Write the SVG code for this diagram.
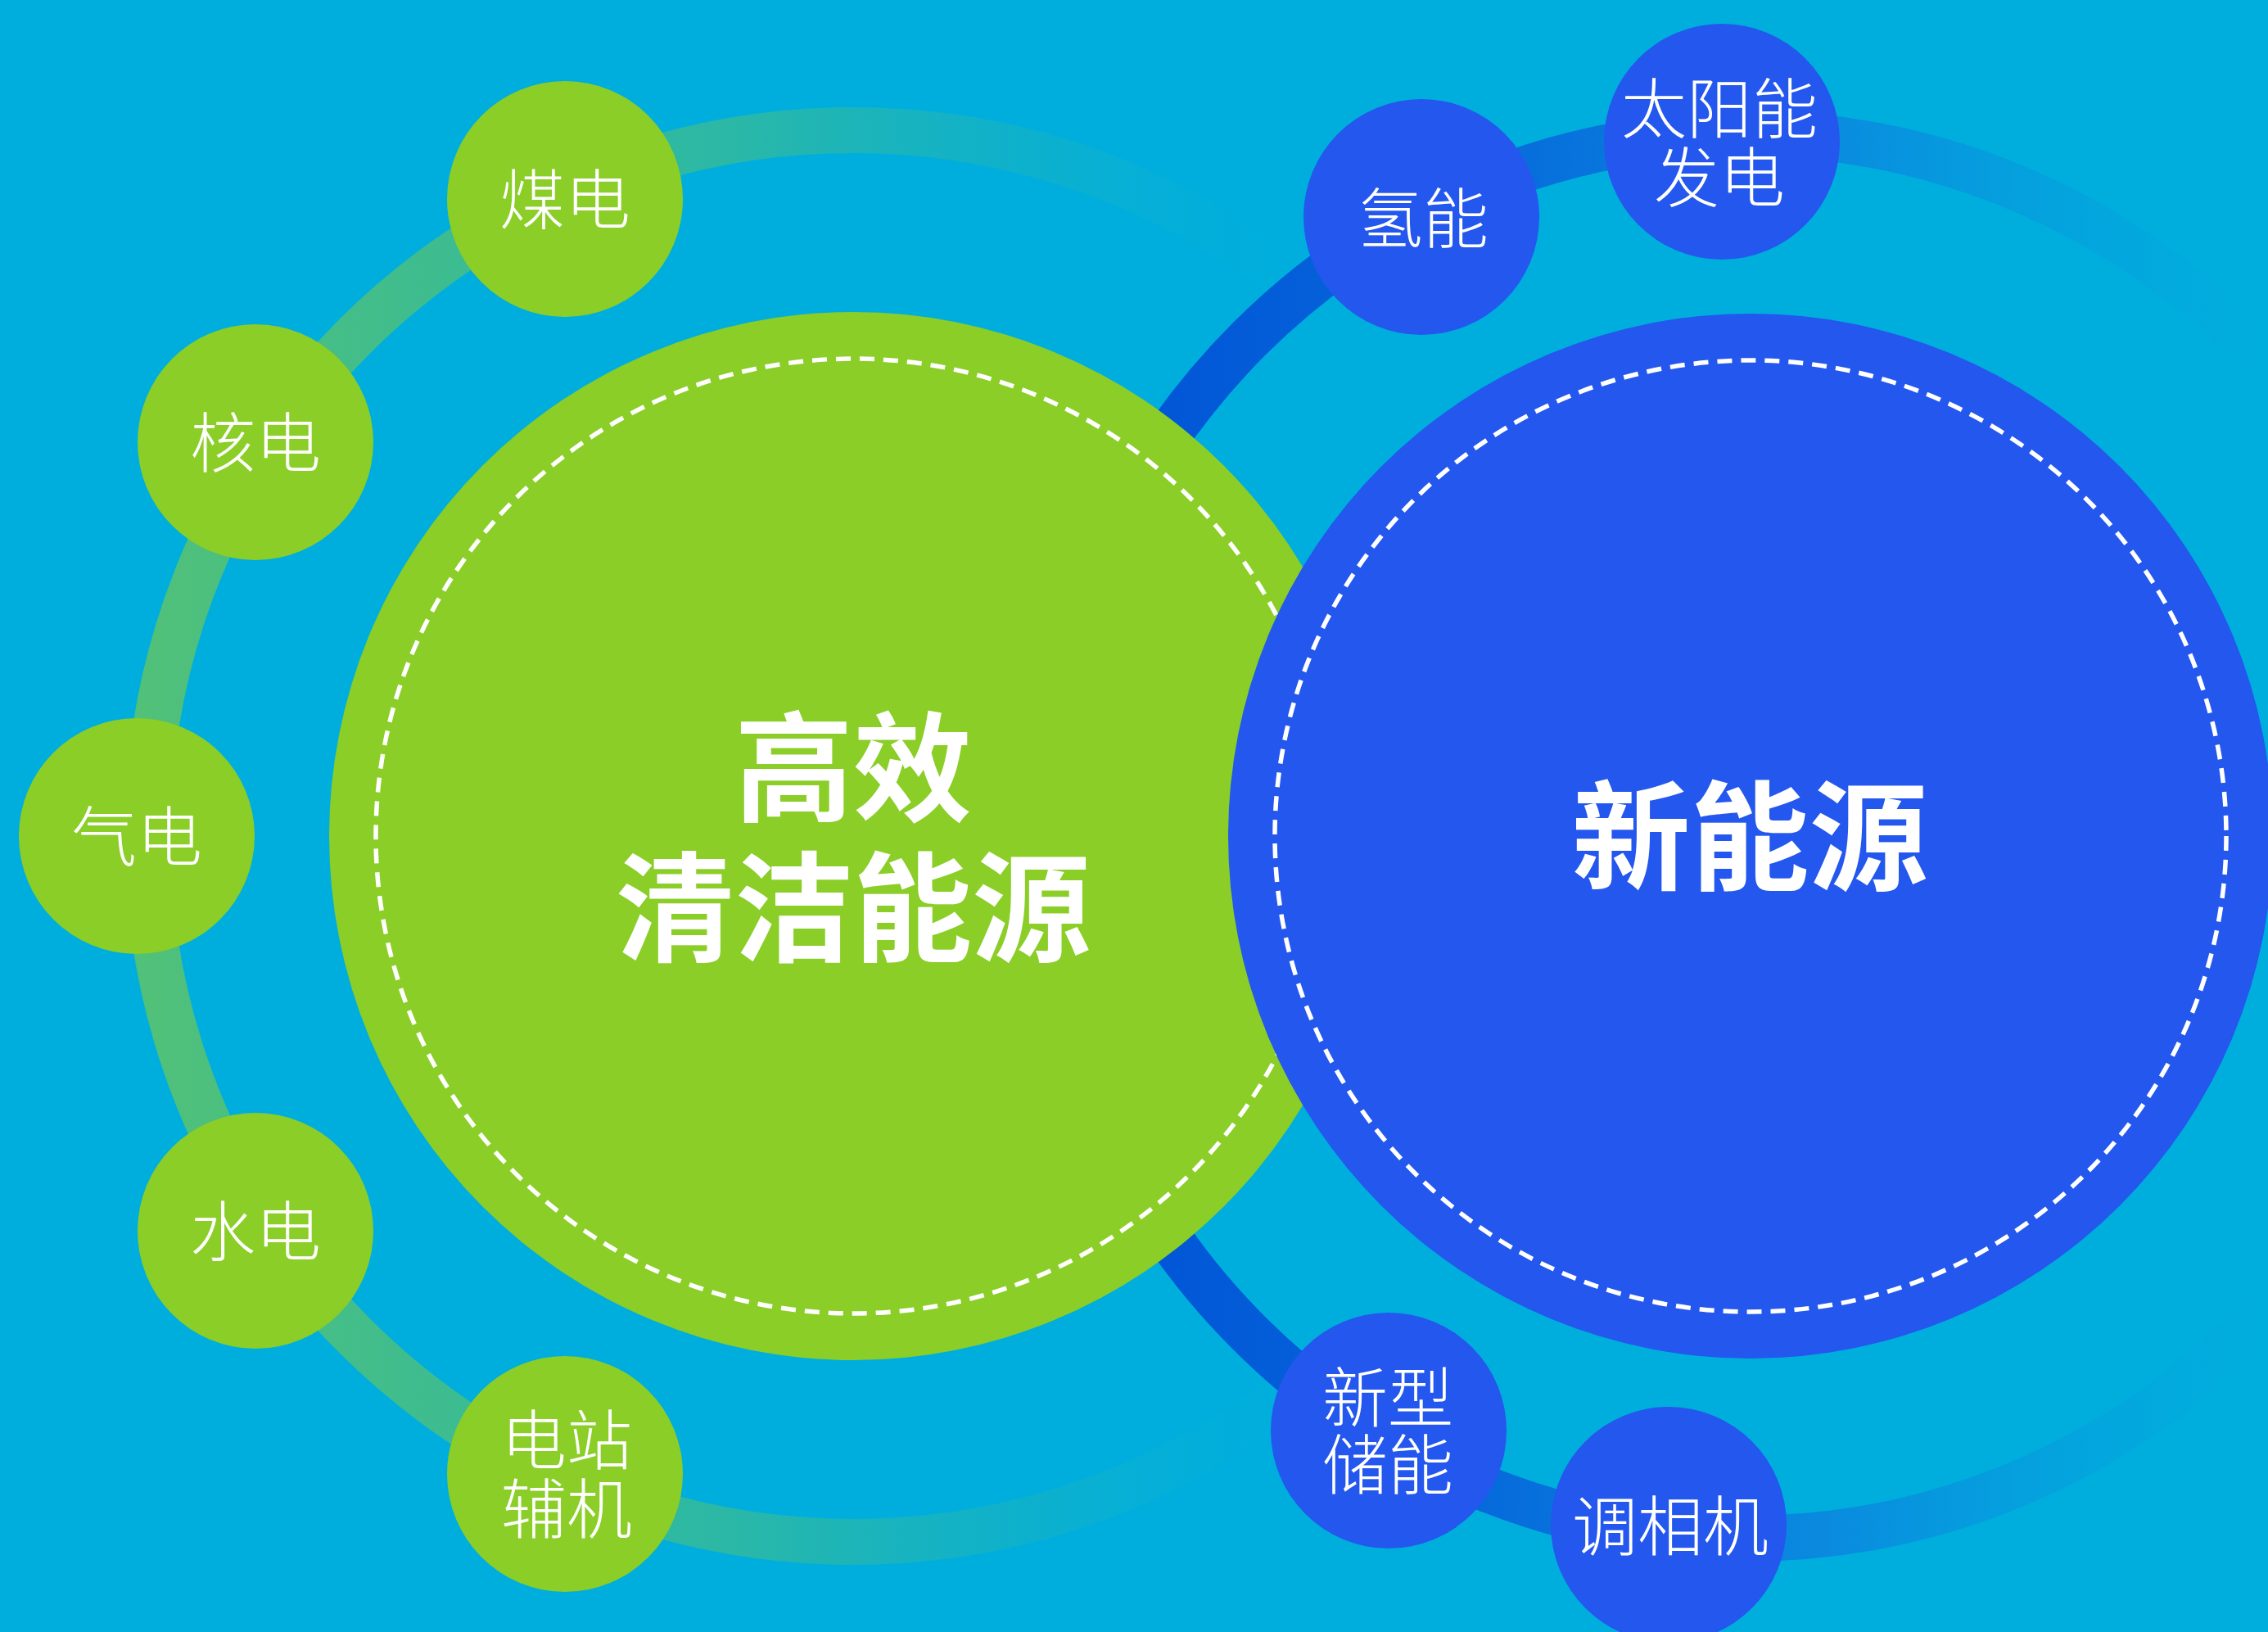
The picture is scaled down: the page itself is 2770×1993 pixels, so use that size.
<svg xmlns="http://www.w3.org/2000/svg" width="2770" height="1993" viewBox="0 0 2770 1993">
  <defs>
    <linearGradient id="ringL" gradientUnits="userSpaceOnUse" x1="160" y1="0" x2="1620" y2="0">
      <stop offset="0" stop-color="#52C178"/>
      <stop offset="0.5" stop-color="#2BB8A6"/>
      <stop offset="0.78" stop-color="#14B2C4" stop-opacity="0.55"/>
      <stop offset="1" stop-color="#00AEDD" stop-opacity="0"/>
    </linearGradient>
    <linearGradient id="ringR" gradientUnits="userSpaceOnUse" x1="1280" y1="0" x2="2860" y2="0">
      <stop offset="0" stop-color="#0050D6"/>
      <stop offset="0.3" stop-color="#0666DA"/>
      <stop offset="0.6" stop-color="#0A8ADF"/>
      <stop offset="0.95" stop-color="#06A4DE" stop-opacity="0"/>
    </linearGradient>
    <style>
      .green { fill: #8ACE27; }
      .blue { fill: #2457EE; }
      .dash { fill: none; stroke: #FFFFFF; stroke-width: 5.5; stroke-dasharray: 18 11; }
      .ring { fill: none; stroke-width: 56; }
      .big { font-family: "Noto Sans CJK SC", "Noto Sans", sans-serif; font-weight: 700; font-size: 145px; fill: #FFFFFF; text-anchor: middle; }
      .small { font-family: "Noto Sans CJK SC", "Noto Sans", sans-serif; font-weight: 300; font-size: 80px; fill: #FFFFFF; text-anchor: middle; }
    </style>
  </defs>

  <rect x="0" y="0" width="2770" height="1993" fill="#00AEDD"/>

  <g id="connectors">
    <circle class="ring" cx="1042" cy="1021" r="862" stroke="url(#ringL)"/>
    <circle class="ring" cx="2132" cy="1021" r="858" stroke="url(#ringR)"/>
  </g>

  <g id="clean-energy">
    <circle class="green" cx="1042" cy="1021" r="640"/>
    <circle class="dash" cx="1042" cy="1021" r="583"/>
    <text class="big"><tspan x="1042" y="992">高效</tspan><tspan x="1042" dy="171">清洁能源</tspan></text>
  </g>

  <g id="new-energy">
    <circle class="blue" cx="2138" cy="1021" r="638"/>
    <circle class="dash" cx="2138" cy="1021" r="581"/>
    <text class="big" x="2137" y="1076">新能源</text>
  </g>

  <g id="node-coal">
    <circle class="green" cx="690" cy="243" r="144"/>
    <text class="small" x="690" y="273">煤电</text>
  </g>
  <g id="node-nuclear">
    <circle class="green" cx="312" cy="540" r="144"/>
    <text class="small" x="312" y="570">核电</text>
  </g>
  <g id="node-gas">
    <circle class="green" cx="167" cy="1021" r="144"/>
    <text class="small" x="167" y="1051">气电</text>
  </g>
  <g id="node-hydro">
    <circle class="green" cx="312" cy="1503" r="144"/>
    <text class="small" x="312" y="1533">水电</text>
  </g>
  <g id="node-aux">
    <circle class="green" cx="690" cy="1800" r="144"/>
    <text class="small"><tspan x="692" y="1788">电站</tspan><tspan x="692" dy="84">辅机</tspan></text>
  </g>

  <g id="node-hydrogen">
    <circle class="blue" cx="1736" cy="265" r="144"/>
    <text class="small" x="1738" y="296">氢能</text>
  </g>
  <g id="node-solar">
    <circle class="blue" cx="2103" cy="173" r="144"/>
    <text class="small"><tspan x="2100" y="162">太阳能</tspan><tspan x="2100" dy="84">发电</tspan></text>
  </g>
  <g id="node-storage">
    <circle class="blue" cx="1696" cy="1747" r="144"/>
    <text class="small"><tspan x="1695" y="1736">新型</tspan><tspan x="1695" dy="82">储能</tspan></text>
  </g>
  <g id="node-condenser">
    <circle class="blue" cx="2038" cy="1862" r="144"/>
    <text class="small" x="2040" y="1893">调相机</text>
  </g>
</svg>
